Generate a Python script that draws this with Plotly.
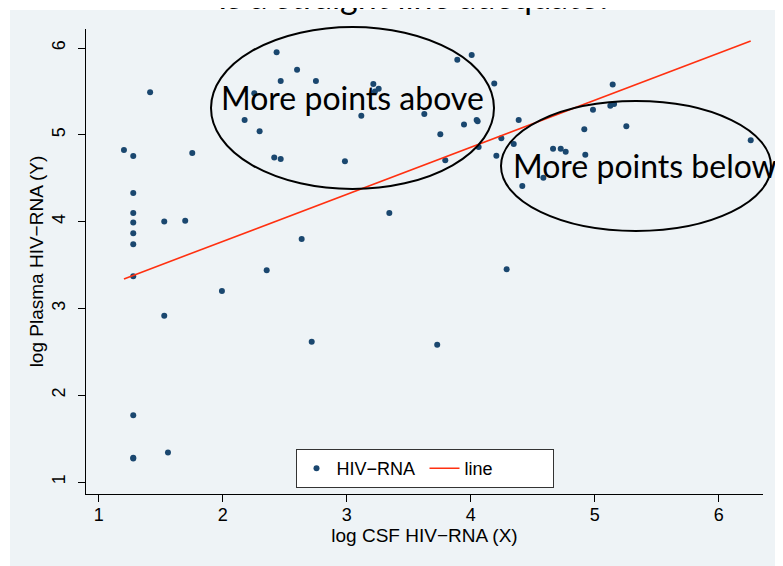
import plotly.graph_objects as go

# ---- data ----
csf_x = [1.204, 1.279, 1.279, 1.279, 1.279, 1.279, 1.279, 1.279, 1.279, 1.279, 1.279,
         1.415, 1.529, 1.529, 1.559, 1.698, 1.755, 1.994, 2.177, 2.255, 2.298, 2.355,
         2.416, 2.435, 2.468, 2.468, 2.600, 2.637, 2.718, 2.752, 2.986, 3.118, 3.215,
         3.228, 3.258, 3.344, 3.626, 3.730, 3.755, 3.795, 3.892, 3.946, 4.008, 4.048,
         4.056, 4.064, 4.190, 4.207, 4.247, 4.290, 4.347, 4.387, 4.416, 4.586, 4.664,
         4.726, 4.766, 4.916, 4.924, 4.986, 5.126, 5.145, 5.156, 5.255, 6.258]
plasma_y = [4.825, 4.756, 4.330, 4.100, 3.990, 3.865, 3.740, 3.370, 1.770, 1.280, 1.270,
            5.490, 4.000, 2.915, 1.340, 4.010, 4.790, 3.200, 5.170, 5.480, 5.040, 3.440,
            4.740, 5.950, 5.620, 4.720, 5.750, 3.800, 2.617, 5.620, 4.695, 5.220, 5.585,
            5.500, 5.530, 4.100, 5.240, 2.580, 5.006, 4.706, 5.865, 5.120, 5.920, 5.170,
            5.155, 4.860, 5.590, 4.760, 4.960, 3.450, 4.894, 5.170, 4.410, 4.506, 4.840,
            4.840, 4.805, 5.063, 4.770, 5.290, 5.335, 5.580, 5.355, 5.100, 4.937]
fit_x = [1.204, 6.258]
fit_y = [3.34, 6.08]
x_ticks = [1, 2, 3, 4, 5, 6]
y_ticks = [1, 2, 3, 4, 5, 6]

# ---- layout geometry (window pixels; the page body adds an 8px offset) ----
OFF = 8
WIN_W, WIN_H = 783, 566
W, H = WIN_W - OFF, WIN_H - OFF
PLOT_L, PLOT_R, PLOT_T, PLOT_B = 86, 763, 29, 494      # in window pixels
L, T = PLOT_L - OFF, PLOT_T - OFF
R, B = WIN_W - PLOT_R, WIN_H - PLOT_B
PW, PH = PLOT_R - PLOT_L, PLOT_B - PLOT_T


def px(x):
    return (x - PLOT_L) / PW


def py(y):
    return (PLOT_B - y) / PH


FONT = "Liberation Sans, Arial, Helvetica, sans-serif"
SLIDE_FONT = "Lato, Open Sans, sans-serif"

fig = go.Figure()
fig.add_trace(go.Scatter(x=csf_x, y=plasma_y, mode="markers", name="HIV\u2212RNA",
                         marker=dict(color="#1a476f", size=6, line=dict(width=0))))
fig.add_trace(go.Scatter(x=fit_x, y=fit_y, mode="lines", name="line",
                         line=dict(color="#ff3010", width=1.6)))

axis_common = dict(showline=True, linecolor="black", linewidth=1, ticks="outside",
                   ticklen=7, tickcolor="black", tickwidth=1, showgrid=False,
                   zeroline=False, automargin=False,
                   tickfont=dict(family=FONT, size=18, color="black"))

fig.update_layout(
    width=W, height=H, autosize=False, template="none",
    margin=dict(l=L, r=R, t=T, b=B, pad=0),
    paper_bgcolor="rgba(0,0,0,0)", plot_bgcolor="rgba(0,0,0,0)",
    font=dict(family=FONT, size=18, color="black"),
    xaxis=dict(range=[0.898, 6.357], tickvals=x_ticks, ticklabelstandoff=-3,
               title=dict(text="log CSF HIV\u2212RNA (X)", standoff=0,
                          font=dict(family=FONT, size=19, color="black")),
               **axis_common),
    yaxis=dict(range=[0.862, 6.219], tickvals=y_ticks, tickangle=-90,
               ticklabelstandoff=6,
               title=dict(text="log Plasma HIV\u2212RNA (Y)", standoff=0,
                          font=dict(family=FONT, size=19, color="black")),
               **axis_common),
    showlegend=True,
    legend=dict(orientation="h", x=0.5, xanchor="center", y=py(488), yanchor="bottom",
                bgcolor="white", bordercolor="#333333", borderwidth=1, entrywidth=83,
                font=dict(family=FONT, size=18, color="black")),
)

shapes = [
    dict(type="rect", xref="paper", yref="paper", x0=px(10), x1=px(790), y0=py(575), y1=py(10),
         fillcolor="#eef3f6", line=dict(width=0), layer="below"),
    dict(type="circle", xref="paper", yref="paper", x0=px(211), x1=px(494), y0=py(189), y1=py(27),
         line=dict(color="black", width=2), layer="above"),
    dict(type="circle", xref="paper", yref="paper", x0=px(501), x1=px(771), y0=py(231), y1=py(101),
         line=dict(color="black", width=2), layer="above"),
]
fig.update_layout(shapes=shapes)

fig.add_annotation(text="More points above", xref="paper", yref="paper", x=px(352), y=py(97),
                   xanchor="center", yanchor="middle", showarrow=False,
                   font=dict(family=SLIDE_FONT, size=32, color="black"))
fig.add_annotation(text="More points below", xref="paper", yref="paper", x=px(645), y=py(165),
                   xanchor="center", yanchor="middle", showarrow=False,
                   font=dict(family=SLIDE_FONT, size=32, color="black"))
fig.add_annotation(text="Is a straight line adequate?", xref="paper", yref="paper", x=px(415), y=py(18),
                   xanchor="center", yanchor="bottom", showarrow=False,
                   font=dict(family=SLIDE_FONT, size=34, color="black"))

fig.write_html("out.html")
